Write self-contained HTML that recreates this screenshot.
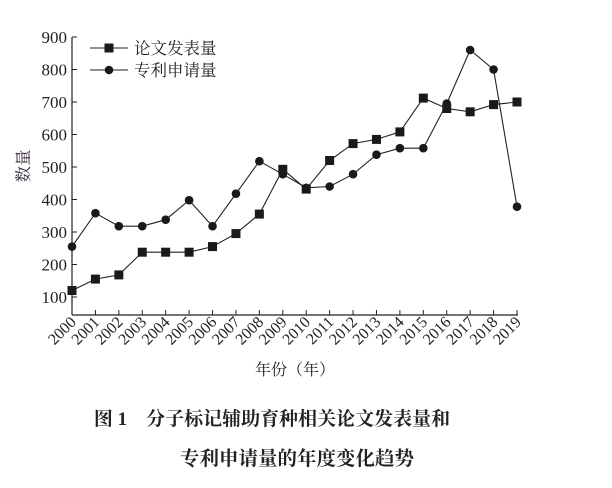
<!DOCTYPE html><html><head><meta charset="utf-8"><style>body{margin:0;background:#fff}svg{display:block}text{font-family:"Liberation Serif","Noto Serif CJK SC",serif}</style></head><body>
<svg width="612" height="488" xmlns="http://www.w3.org/2000/svg" fill="#222">
<line x1="72" y1="37" x2="72" y2="315" stroke="#222" stroke-width="1.2"/>
<line x1="72" y1="315" x2="518" y2="315" stroke="#222" stroke-width="1.2"/>
<g stroke="#222">
<line x1="72" y1="297" x2="77" y2="297"/><line x1="72" y1="264.5" x2="77" y2="264.5"/><line x1="72" y1="232" x2="77" y2="232"/><line x1="72" y1="199.5" x2="77" y2="199.5"/><line x1="72" y1="167" x2="77" y2="167"/><line x1="72" y1="134.5" x2="77" y2="134.5"/><line x1="72" y1="102" x2="77" y2="102"/><line x1="72" y1="69.5" x2="77" y2="69.5"/><line x1="72" y1="37" x2="77" y2="37"/>
<line x1="72" y1="310" x2="72" y2="315"/><line x1="95.42" y1="310" x2="95.42" y2="315"/><line x1="118.84" y1="310" x2="118.84" y2="315"/><line x1="142.26" y1="310" x2="142.26" y2="315"/><line x1="165.68" y1="310" x2="165.68" y2="315"/><line x1="189.11" y1="310" x2="189.11" y2="315"/><line x1="212.53" y1="310" x2="212.53" y2="315"/><line x1="235.95" y1="310" x2="235.95" y2="315"/><line x1="259.37" y1="310" x2="259.37" y2="315"/><line x1="282.79" y1="310" x2="282.79" y2="315"/><line x1="306.21" y1="310" x2="306.21" y2="315"/><line x1="329.63" y1="310" x2="329.63" y2="315"/><line x1="353.05" y1="310" x2="353.05" y2="315"/><line x1="376.47" y1="310" x2="376.47" y2="315"/><line x1="399.89" y1="310" x2="399.89" y2="315"/><line x1="423.32" y1="310" x2="423.32" y2="315"/><line x1="446.74" y1="310" x2="446.74" y2="315"/><line x1="470.16" y1="310" x2="470.16" y2="315"/><line x1="493.58" y1="310" x2="493.58" y2="315"/><line x1="517" y1="310" x2="517" y2="315"/>
</g>
<g font-size="17" text-anchor="end">
<text x="67" y="303">100</text><text x="67" y="270.5">200</text><text x="67" y="238">300</text><text x="67" y="205.5">400</text><text x="67" y="173">500</text><text x="67" y="140.5">600</text><text x="67" y="108">700</text><text x="67" y="75.5">800</text><text x="67" y="43">900</text>
</g>
<g font-size="16" text-anchor="end">
<text transform="translate(77,323) rotate(-45)">2000</text>
<text transform="translate(100.42,323) rotate(-45)">2001</text>
<text transform="translate(123.84,323) rotate(-45)">2002</text>
<text transform="translate(147.26,323) rotate(-45)">2003</text>
<text transform="translate(170.68,323) rotate(-45)">2004</text>
<text transform="translate(194.11,323) rotate(-45)">2005</text>
<text transform="translate(217.53,323) rotate(-45)">2006</text>
<text transform="translate(240.95,323) rotate(-45)">2007</text>
<text transform="translate(264.37,323) rotate(-45)">2008</text>
<text transform="translate(287.79,323) rotate(-45)">2009</text>
<text transform="translate(311.21,323) rotate(-45)">2010</text>
<text transform="translate(334.63,323) rotate(-45)">2011</text>
<text transform="translate(358.05,323) rotate(-45)">2012</text>
<text transform="translate(381.47,323) rotate(-45)">2013</text>
<text transform="translate(404.89,323) rotate(-45)">2014</text>
<text transform="translate(428.32,323) rotate(-45)">2015</text>
<text transform="translate(451.74,323) rotate(-45)">2016</text>
<text transform="translate(475.16,323) rotate(-45)">2017</text>
<text transform="translate(498.58,323) rotate(-45)">2018</text>
<text transform="translate(522,323) rotate(-45)">2019</text>
</g>
<polyline fill="none" stroke="#222" stroke-width="1.1" points="72,290.5 95.42,279.1 118.84,274.9 142.26,252.2 165.68,252.2 189.11,252.2 212.53,246.6 235.95,233.6 259.37,214.1 282.79,169.3 306.21,189.1 329.63,160.5 353.05,143.6 376.47,139.4 399.89,131.9 423.32,98.1 446.74,108.5 470.16,111.8 493.58,104.6 517,102"/>
<polyline fill="none" stroke="#222" stroke-width="1.1" points="72,246.6 95.42,213.2 118.84,226.2 142.26,226.2 165.68,219.7 189.11,200.2 212.53,226.2 235.95,193.7 259.37,161.2 282.79,174.2 306.21,187.8 329.63,186.5 353.05,174.2 376.47,154.7 399.89,148.2 423.32,148.2 446.74,103.6 470.16,50 493.58,69.5 517,206.7"/>
<g fill="#1a1a1a">
<rect x="67.5" y="286" width="9" height="9"/><rect x="90.92" y="274.6" width="9" height="9"/><rect x="114.34" y="270.4" width="9" height="9"/><rect x="137.76" y="247.7" width="9" height="9"/><rect x="161.18" y="247.7" width="9" height="9"/><rect x="184.61" y="247.7" width="9" height="9"/><rect x="208.03" y="242.1" width="9" height="9"/><rect x="231.45" y="229.1" width="9" height="9"/><rect x="254.87" y="209.6" width="9" height="9"/><rect x="278.29" y="164.8" width="9" height="9"/><rect x="301.71" y="184.6" width="9" height="9"/><rect x="325.13" y="156" width="9" height="9"/><rect x="348.55" y="139.1" width="9" height="9"/><rect x="371.97" y="134.9" width="9" height="9"/><rect x="395.39" y="127.4" width="9" height="9"/><rect x="418.82" y="93.6" width="9" height="9"/><rect x="442.24" y="104" width="9" height="9"/><rect x="465.66" y="107.3" width="9" height="9"/><rect x="489.08" y="100.1" width="9" height="9"/><rect x="512.5" y="97.5" width="9" height="9"/>
<circle cx="72" cy="246.6" r="4.3"/><circle cx="95.42" cy="213.2" r="4.3"/><circle cx="118.84" cy="226.2" r="4.3"/><circle cx="142.26" cy="226.2" r="4.3"/><circle cx="165.68" cy="219.7" r="4.3"/><circle cx="189.11" cy="200.2" r="4.3"/><circle cx="212.53" cy="226.2" r="4.3"/><circle cx="235.95" cy="193.7" r="4.3"/><circle cx="259.37" cy="161.2" r="4.3"/><circle cx="282.79" cy="174.2" r="4.3"/><circle cx="306.21" cy="187.8" r="4.3"/><circle cx="329.63" cy="186.5" r="4.3"/><circle cx="353.05" cy="174.2" r="4.3"/><circle cx="376.47" cy="154.7" r="4.3"/><circle cx="399.89" cy="148.2" r="4.3"/><circle cx="423.32" cy="148.2" r="4.3"/><circle cx="446.74" cy="103.6" r="4.3"/><circle cx="470.16" cy="50" r="4.3"/><circle cx="493.58" cy="69.5" r="4.3"/><circle cx="517" cy="206.7" r="4.3"/>
</g>
<line x1="90" y1="48" x2="128" y2="48" stroke="#222"/><rect x="104.5" y="43.5" width="9" height="9" fill="#1a1a1a"/><text x="134" y="54" font-size="16.5">论文发表量</text>
<line x1="90" y1="70" x2="128" y2="70" stroke="#222"/><circle cx="109" cy="70" r="4.3" fill="#1a1a1a"/><text x="134" y="76" font-size="16.5">专利申请量</text>
<text transform="translate(29,166) rotate(-90)" font-size="16.5" text-anchor="middle" fill="#3a3040">数量</text>
<text x="295" y="375" font-size="16" text-anchor="middle">年份（年）</text>
<text x="272" y="425" font-size="19" font-weight="bold" text-anchor="middle">图 1　分子标记辅助育种相关论文发表量和</text>
<text x="297" y="465" font-size="19.5" font-weight="bold" text-anchor="middle">专利申请量的年度变化趋势</text>
</svg></body></html>
